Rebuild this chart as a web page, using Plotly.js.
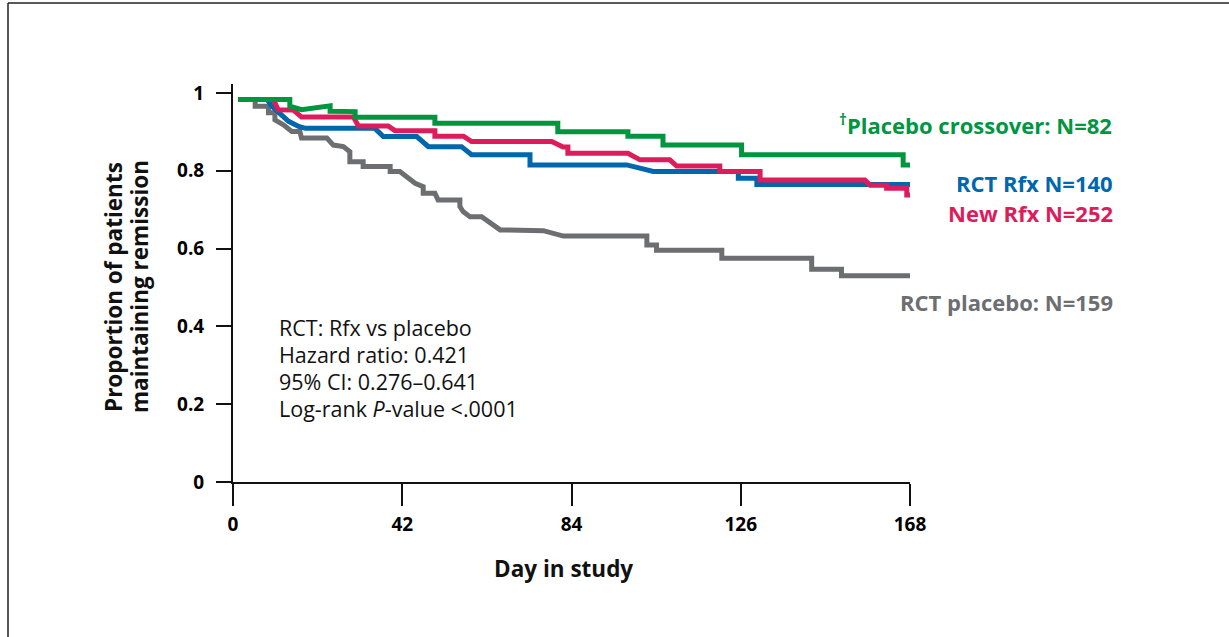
<!DOCTYPE html>
<html><head><meta charset="utf-8">
<script src="https://cdn.plot.ly/plotly-3.0.1.min.js"></script>
<style>html,body{margin:0;padding:0;background:#fff}#chart{width:1229px;height:637px}</style>
</head><body><div id="chart"></div><script>
// Tick values / labels
const xTicks = [0, 42, 84, 126, 168];
const yTicks = [0, 0.2, 0.4, 0.6, 0.8, 1];
const yTickText = ['0', '0.2', '0.4', '0.6', '0.8', '1'];

// Placebo crossover (green)
const greenDays = [1.3, 14.1, 14.1, 17.0, 24.1, 24.1, 30.3, 30.3, 50.1, 50.1, 80.6, 80.6, 98.0, 98.0, 106.7, 106.7, 126.2, 126.2, 166.3, 166.3, 168];
const greenSurv = [0.983, 0.983, 0.966, 0.957, 0.967, 0.953, 0.952, 0.9375, 0.9375, 0.922, 0.922, 0.90, 0.90, 0.889, 0.889, 0.866, 0.866, 0.841, 0.841, 0.815, 0.815];

// New Rfx (pink)
const pinkDays = [1.3, 10.0, 11.2, 15.0, 17.0, 29.9, 31.1, 38.5, 40.2, 50.1, 50.1, 57.2, 59.2, 79.1, 81.9, 83.1, 83.1, 98.0, 101.0, 108.4, 110.1, 120.8, 120.8, 130.8, 130.8, 156.8, 158.1, 162.2, 162.2, 167.2, 167.2, 168];
const pinkSurv = [0.983, 0.983, 0.957, 0.956, 0.938, 0.938, 0.915, 0.915, 0.903, 0.903, 0.889, 0.889, 0.875, 0.875, 0.861, 0.861, 0.845, 0.845, 0.828, 0.828, 0.812, 0.812, 0.798, 0.798, 0.776, 0.776, 0.763, 0.763, 0.755, 0.755, 0.738, 0.738];

// RCT Rfx (blue)
const blueDays = [1.3, 8.5, 9.6, 13.8, 16.3, 18.0, 35.2, 37.3, 45.6, 48.5, 56.7, 59.2, 73.7, 73.7, 97.7, 104.3, 125.4, 125.4, 130.0, 130.0, 168];
const blueSurv = [0.983, 0.983, 0.966, 0.927, 0.914, 0.909, 0.909, 0.888, 0.888, 0.862, 0.862, 0.841, 0.841, 0.815, 0.815, 0.798, 0.798, 0.781, 0.781, 0.765, 0.765];

// RCT placebo (gray)
const grayDays = [1.3, 5.5, 5.5, 8.8, 8.8, 10.4, 10.4, 12.5, 14.6, 16.6, 17.0, 23.3, 24.9, 27.4, 29.0, 29.0, 32.3, 32.3, 39.0, 39.0, 41.4, 45.2, 47.2, 47.2, 50.1, 50.9, 56.3, 56.3, 57.1, 58.8, 61.7, 66.3, 77.0, 82.0, 102.7, 102.7, 105.1, 105.1, 121.3, 121.3, 143.6, 143.6, 151.0, 151.0, 168];
const graySurv = [0.983, 0.983, 0.966, 0.966, 0.949, 0.949, 0.931, 0.918, 0.901, 0.901, 0.884, 0.884, 0.866, 0.862, 0.849, 0.823, 0.823, 0.811, 0.811, 0.798, 0.798, 0.768, 0.759, 0.742, 0.742, 0.725, 0.725, 0.708, 0.695, 0.682, 0.682, 0.648, 0.646, 0.632, 0.632, 0.609, 0.609, 0.596, 0.596, 0.575, 0.575, 0.547, 0.547, 0.53, 0.53];

const GREEN = '#00963f', BLUE = '#0067ad', PINK = '#dd1c5c', GRAY = '#6d6e71';
const FONT = '"Open Sans", "Noto Sans", sans-serif';

function line(x, y, color, name) {
  return {x: x, y: y, type: 'scatter', mode: 'lines', name: name,
    line: {color: color, width: 5, shape: 'linear'}, hoverinfo: 'skip'};
}

const traces = [
  line(grayDays, graySurv, GRAY, 'RCT placebo'),
  line(blueDays, blueSurv, BLUE, 'RCT Rfx'),
  line(pinkDays, pinkSurv, PINK, 'New Rfx'),
  line(greenDays, greenSurv, GREEN, 'Placebo crossover')
];

// plot area: x 233..910, y 84..482
const L = 233, R = 910, T = 84, B = 482;
const px = v => (v - L) / (R - L);
const py = v => (B - v) / (B - T);

function ann(text, x, y, color, size, weight, xanchor, extra) {
  return Object.assign({text: text, xref: 'paper', yref: 'paper', x: px(x), y: py(y),
    xanchor: xanchor, yanchor: 'middle', showarrow: false,
    font: {family: FONT, size: size, color: color, weight: weight}}, extra || {});
}

const annotations = [
  ann('<sup>†</sup>Placebo crossover: N=82', 1114, 124, GREEN, 22, 'bold', 'right'),
  ann('RCT Rfx N=140', 1115, 183, BLUE, 22, 'bold', 'right'),
  ann('New Rfx N=252', 1115, 213, PINK, 22, 'bold', 'right'),
  ann('RCT placebo: N=159', 1115, 302, GRAY, 22, 'bold', 'right'),
  ann('RCT: Rfx vs placebo', 277, 327, '#111', 21.5, 'normal', 'left'),
  ann('Hazard ratio: 0.421', 277, 354, '#111', 21.5, 'normal', 'left'),
  ann('95% CI: 0.276–0.641', 277, 381, '#111', 21.5, 'normal', 'left'),
  ann('Log-rank <i>P</i>-value &lt;.0001', 277, 408, '#111', 21.5, 'normal', 'left'),
  ann('Day in study', 563, 568, '#111', 22.5, 'bold', 'center'),
  ann('Proportion of patients', 113, 287, '#111', 22.5, 'bold', 'center', {textangle: -90, xanchor: 'center'}),
  ann('maintaining remission', 139, 287, '#111', 22.5, 'bold', 'center', {textangle: -90, xanchor: 'center'})
];

const shapes = [
  {type: 'line', xref: 'paper', yref: 'paper', x0: px(8), x1: px(8), y0: py(640), y1: py(3), line: {color: '#222', width: 1.5}},
  {type: 'line', xref: 'paper', yref: 'paper', x0: px(8), x1: px(1232), y0: py(3), y1: py(3), line: {color: '#222', width: 1.5}}
];

const layout = {
  width: 1229, height: 637,
  margin: {l: L, r: 1229 - R, t: T, b: 637 - B, pad: 0},
  paper_bgcolor: '#fff', plot_bgcolor: '#fff',
  showlegend: false,
  xaxis: {range: [0, 168], tickvals: xTicks, ticktext: xTicks.map(String), ticks: 'outside', ticklen: 22, tickwidth: 2,
    tickcolor: '#111', showline: true, linewidth: 2, linecolor: '#111', showgrid: false, zeroline: false,
    tickfont: {family: FONT, size: 19, color: '#000', weight: 'bold'}, ticklabelstandoff: 2, fixedrange: true},
  yaxis: {range: [0, 1.023], tickvals: yTicks, ticktext: yTickText, ticks: 'outside', ticklen: 15, tickwidth: 2,
    tickcolor: '#111', showline: true, linewidth: 2, linecolor: '#111', showgrid: false, zeroline: false,
    tickfont: {family: FONT, size: 19, color: '#000', weight: 'bold'}, ticklabelstandoff: 8, fixedrange: true},
  annotations: annotations,
  shapes: shapes
};

Plotly.newPlot('chart', traces, layout, {displayModeBar: false, staticPlot: true});
</script></body></html>
